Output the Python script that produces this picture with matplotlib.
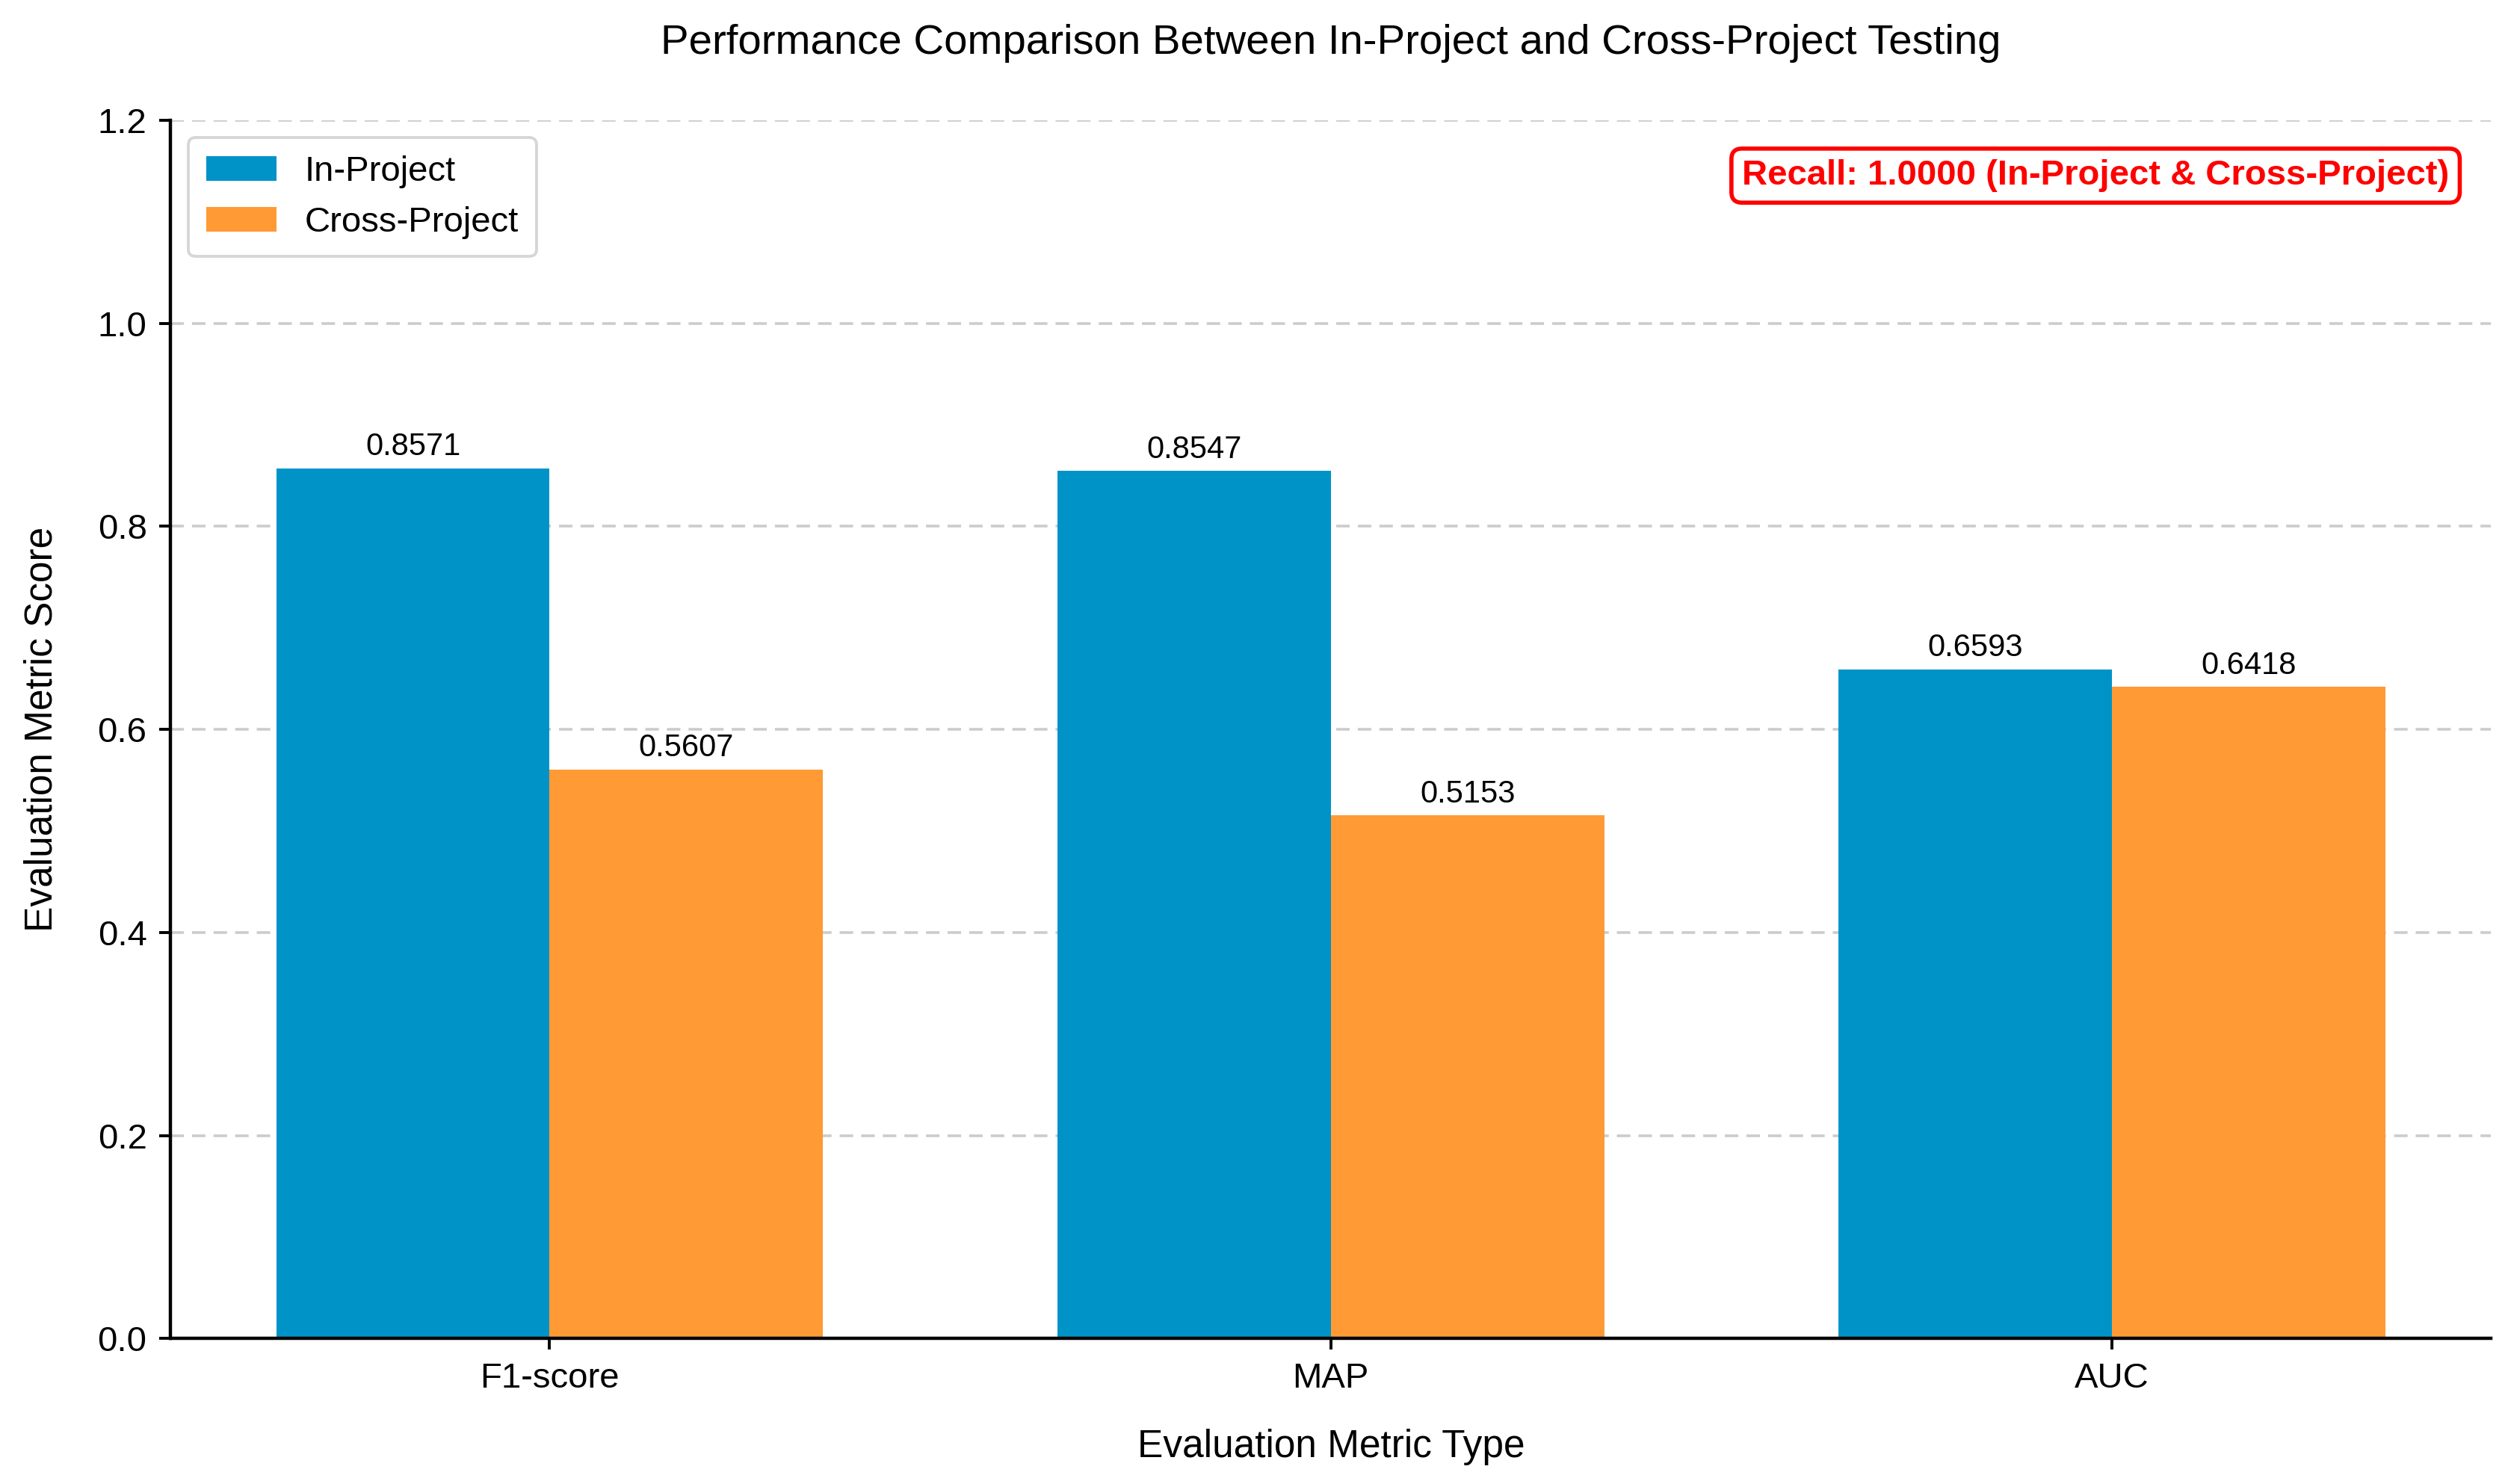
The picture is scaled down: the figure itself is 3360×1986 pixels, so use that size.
import numpy as np
import matplotlib
matplotlib.use('Agg')
import matplotlib.pyplot as plt

plt.rcParams['font.family'] = ['Liberation Sans', 'DejaVu Sans']

metrics = ['F1-score', 'MAP', 'AUC']
in_project = [0.8571, 0.8547, 0.6593]
cross_project = [0.5607, 0.5153, 0.6418]
recall_note = 'Recall: 1.0000 (In-Project & Cross-Project)'

x = np.arange(len(metrics))
width = 0.35

fig, ax = plt.subplots(figsize=(16.8, 9.93), dpi=200)
fig.subplots_adjust(left=0.068, right=0.992, top=0.919, bottom=0.098)

b1 = ax.bar(x - width / 2, in_project, width, label='In-Project', color='#0093c7')
b2 = ax.bar(x + width / 2, cross_project, width, label='Cross-Project', color='#ff9a35')

for bars in (b1, b2):
    for bar in bars:
        h = bar.get_height()
        ax.annotate(f'{h:.4f}', xy=(bar.get_x() + bar.get_width() / 2, h),
                    xytext=(0, 3), textcoords='offset points',
                    ha='center', va='bottom', fontsize=15)

ax.set_xticks(x)
ax.set_xticklabels(metrics, fontsize=17)
ax.tick_params(axis='both', labelsize=17, length=5.5, width=1.4, pad=6)
ax.set_ylim(0, 1.2)
ax.set_xlabel('Evaluation Metric Type', fontsize=18.5, labelpad=16)
ax.set_ylabel('Evaluation Metric Score', fontsize=18.5, labelpad=18)
ax.set_title('Performance Comparison Between In-Project and Cross-Project Testing',
             fontsize=20.3, pad=32)

ax.yaxis.grid(True, linestyle='--', color='#cccccc', linewidth=1.3, dashes=(5, 3))
ax.set_axisbelow(True)
ax.spines['top'].set_visible(False)
ax.spines['right'].set_visible(False)
ax.spines['left'].set_linewidth(1.6)
ax.spines['bottom'].set_linewidth(1.6)

leg = ax.legend(loc='upper left', fontsize=17, borderpad=0.5)
leg.get_frame().set_linewidth(1.4)

ax.text(0.982, 0.968, recall_note, transform=ax.transAxes, ha='right', va='top',
        fontsize=17, fontweight='bold', color='red',
        bbox=dict(boxstyle='round,pad=0.3', facecolor='white', edgecolor='red', linewidth=2))

fig.savefig('out.png', dpi=200)
